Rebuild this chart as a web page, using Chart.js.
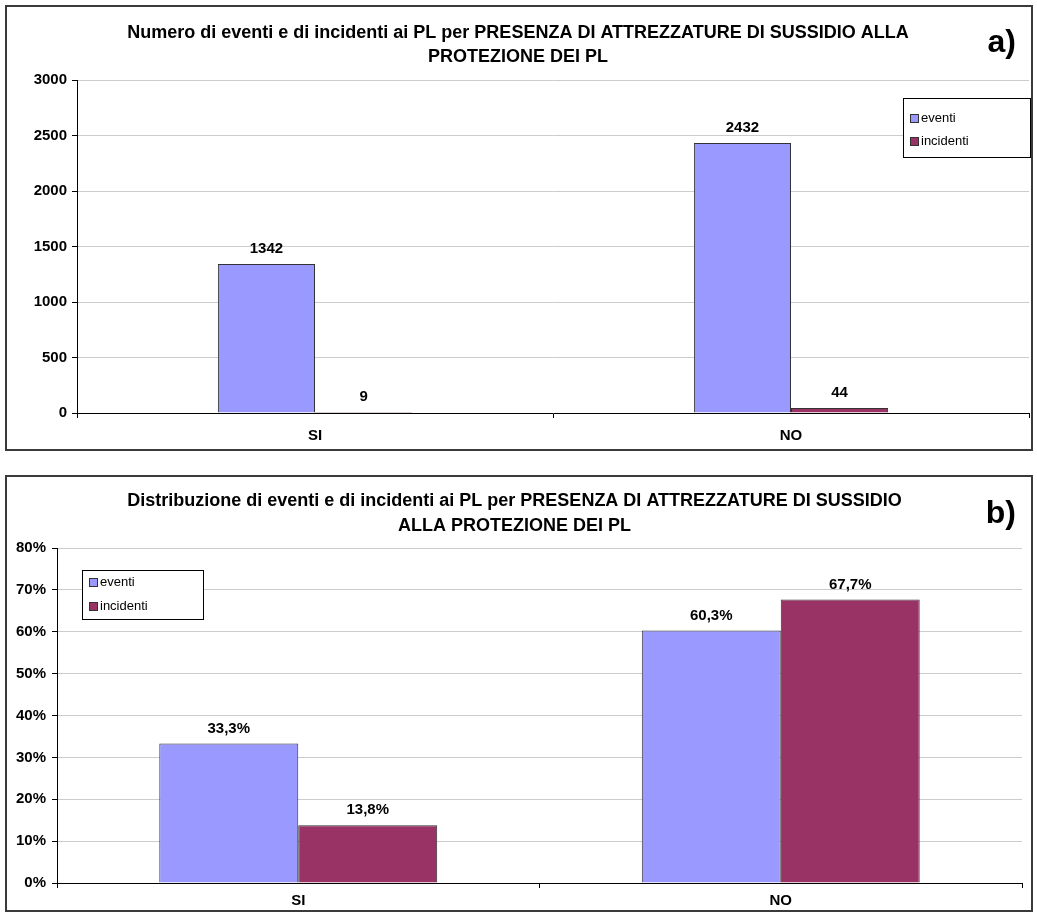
<!DOCTYPE html>
<html>
<head>
<meta charset="utf-8">
<script src="https://cdn.jsdelivr.net/npm/chart.js@4.4.0/dist/chart.umd.min.js"></script>
<style>
  body { margin: 0; background: #fff; }
  .panel { position: absolute; left: 5px; width: 1024px; border: 2px solid #3a3a3a; background: #fff; }
  #panelA { top: 5px; height: 442px; }
  #panelB { top: 475px; height: 433px; }
  canvas { display: block; }
</style>
</head>
<body>
<div class="panel" id="panelA"><canvas id="chartA" width="1024" height="442"></canvas></div>
<div class="panel" id="panelB"><canvas id="chartB" width="1024" height="433"></canvas></div>
<script>
const categories = ['SI', 'NO'];
const seriesNames = ['eventi', 'incidenti'];
const seriesColors = ['#9999ff', '#993366'];

// numero assoluto
const eventiCount = [1342, 2432];
const incidentiCount = [9, 44];
const countTicks = [0, 500, 1000, 1500, 2000, 2500, 3000];

// distribuzione percentuale
const eventiPct = [33.3, 60.3];
const incidentiPct = [13.8, 67.7];
const pctTicks = [0, 10, 20, 30, 40, 50, 60, 70, 80];

const titleA = ['Numero di eventi e di incidenti ai PL per PRESENZA DI ATTREZZATURE DI SUSSIDIO ALLA', 'PROTEZIONE DEI PL'];
const titleB = ['Distribuzione di eventi e di incidenti ai PL per PRESENZA DI ATTREZZATURE DI SUSSIDIO', 'ALLA PROTEZIONE DEI PL'];

const FONT = "'Liberation Sans', Arial, sans-serif";

// valori sopra le barre, legenda incorniciata e lettera del pannello
const extras = {
  id: 'extras',
  afterDatasetsDraw(chart, args, opts) {
    const ctx = chart.ctx;
    ctx.save();
    ctx.fillStyle = '#000';
    ctx.font = 'bold 15px ' + FONT;
    ctx.textAlign = 'center';
    ctx.textBaseline = 'middle';
    chart.data.datasets.forEach((ds, i) => {
      chart.getDatasetMeta(i).data.forEach((bar, j) => {
        ctx.fillText(opts.format(ds.data[j]), bar.x, bar.y - 15);
      });
    });

    // legenda
    const lg = opts.legend;
    ctx.fillStyle = '#fff';
    ctx.fillRect(lg.x, lg.y, lg.w, lg.h);
    ctx.strokeStyle = '#000';
    ctx.lineWidth = 1;
    ctx.strokeRect(lg.x + 0.5, lg.y + 0.5, lg.w, lg.h);
    ctx.font = '13px ' + FONT;
    ctx.textAlign = 'left';
    chart.data.datasets.forEach((ds, i) => {
      const y = lg.y + lg.first + i * lg.step;
      ctx.fillStyle = ds.backgroundColor;
      ctx.fillRect(lg.x + 7, y - 4, 9, 9);
      ctx.strokeStyle = '#333';
      ctx.strokeRect(lg.x + 7.5, y - 3.5, 8, 8);
      ctx.fillStyle = '#000';
      ctx.fillText(ds.label, lg.x + 18, y);
    });

    // lettera del pannello
    ctx.font = 'bold 32px ' + FONT;
    ctx.textAlign = 'right';
    ctx.fillText(opts.tag, chart.width - 15, opts.tagY);
    ctx.restore();
  }
};

function createBarChart(canvasId, cfg) {
  const ctx = document.getElementById(canvasId).getContext('2d');
  return new Chart(ctx, {
    type: 'bar',
    data: {
      labels: categories,
      datasets: cfg.values.map((vals, i) => ({
        label: seriesNames[i],
        data: vals,
        backgroundColor: seriesColors[i],
        borderColor: '#333',
        borderWidth: 1,
        categoryPercentage: cfg.catPct,
        barPercentage: 1
      }))
    },
    options: {
      responsive: false,
      animation: false,
      layout: { padding: { left: 0, right: cfg.padRight, top: 0, bottom: 0 } },
      scales: {
        x: {
          grid: { offset: true, drawOnChartArea: false, tickLength: 5, tickColor: '#000' },
          border: { color: '#000', width: 1 },
          ticks: { font: { family: FONT, size: 15, weight: 'bold' }, color: '#000', padding: cfg.xPad },
          afterFit: s => { s.height = cfg.xHeight; }
        },
        y: {
          min: cfg.ticks[0],
          max: cfg.ticks[cfg.ticks.length - 1],
          afterBuildTicks: s => { s.ticks = cfg.ticks.map(v => ({ value: v })); },
          grid: { color: '#cccccc', tickColor: '#000', tickLength: 5 },
          border: { color: '#000', width: 1 },
          ticks: {
            font: { family: FONT, size: 15, weight: 'bold' },
            color: '#000',
            padding: cfg.yPad,
            callback: cfg.tickFormat
          },
          afterFit: s => { s.width = cfg.yWidth; }
        }
      },
      plugins: {
        legend: { display: false },
        tooltip: { enabled: false },
        title: {
          display: true,
          text: cfg.title,
          color: '#000',
          font: { family: FONT, size: 18, weight: 'bold', lineHeight: cfg.titleLine },
          padding: cfg.titlePad
        },
        extras: {
          format: cfg.format,
          legend: cfg.legend,
          tag: cfg.tag,
          tagY: cfg.tagY
        }
      }
    },
    plugins: [extras]
  });
}

window.onload = function () {
  createBarChart('chartA', {
    values: [eventiCount, incidentiCount],
    ticks: countTicks,
    tickFormat: v => String(v),
    format: v => String(v),
    title: titleA,
    titleLine: '24px',
    titlePad: { top: 14, bottom: 11 },
    catPct: 0.408,
    padRight: 2,
    yWidth: 70,
    yPad: 5,
    xHeight: 36,
    xPad: 9,
    legend: { x: 896, y: 91, w: 127, h: 59, first: 20, step: 23 },
    tag: 'a)',
    tagY: 36
  });

  createBarChart('chartB', {
    values: [eventiPct, incidentiPct],
    ticks: pctTicks,
    tickFormat: v => v + '%',
    format: v => v.toFixed(1).replace('.', ',') + '%',
    title: titleB,
    titleLine: '25px',
    titlePad: { top: 12, bottom: 9 },
    catPct: 0.576,
    padRight: 9,
    yWidth: 50,
    yPad: 6,
    xHeight: 27,
    xPad: 4,
    legend: { x: 75, y: 93, w: 121, h: 49, first: 12, step: 24 },
    tag: 'b)',
    tagY: 37
  });
};
</script>
</body>
</html>
